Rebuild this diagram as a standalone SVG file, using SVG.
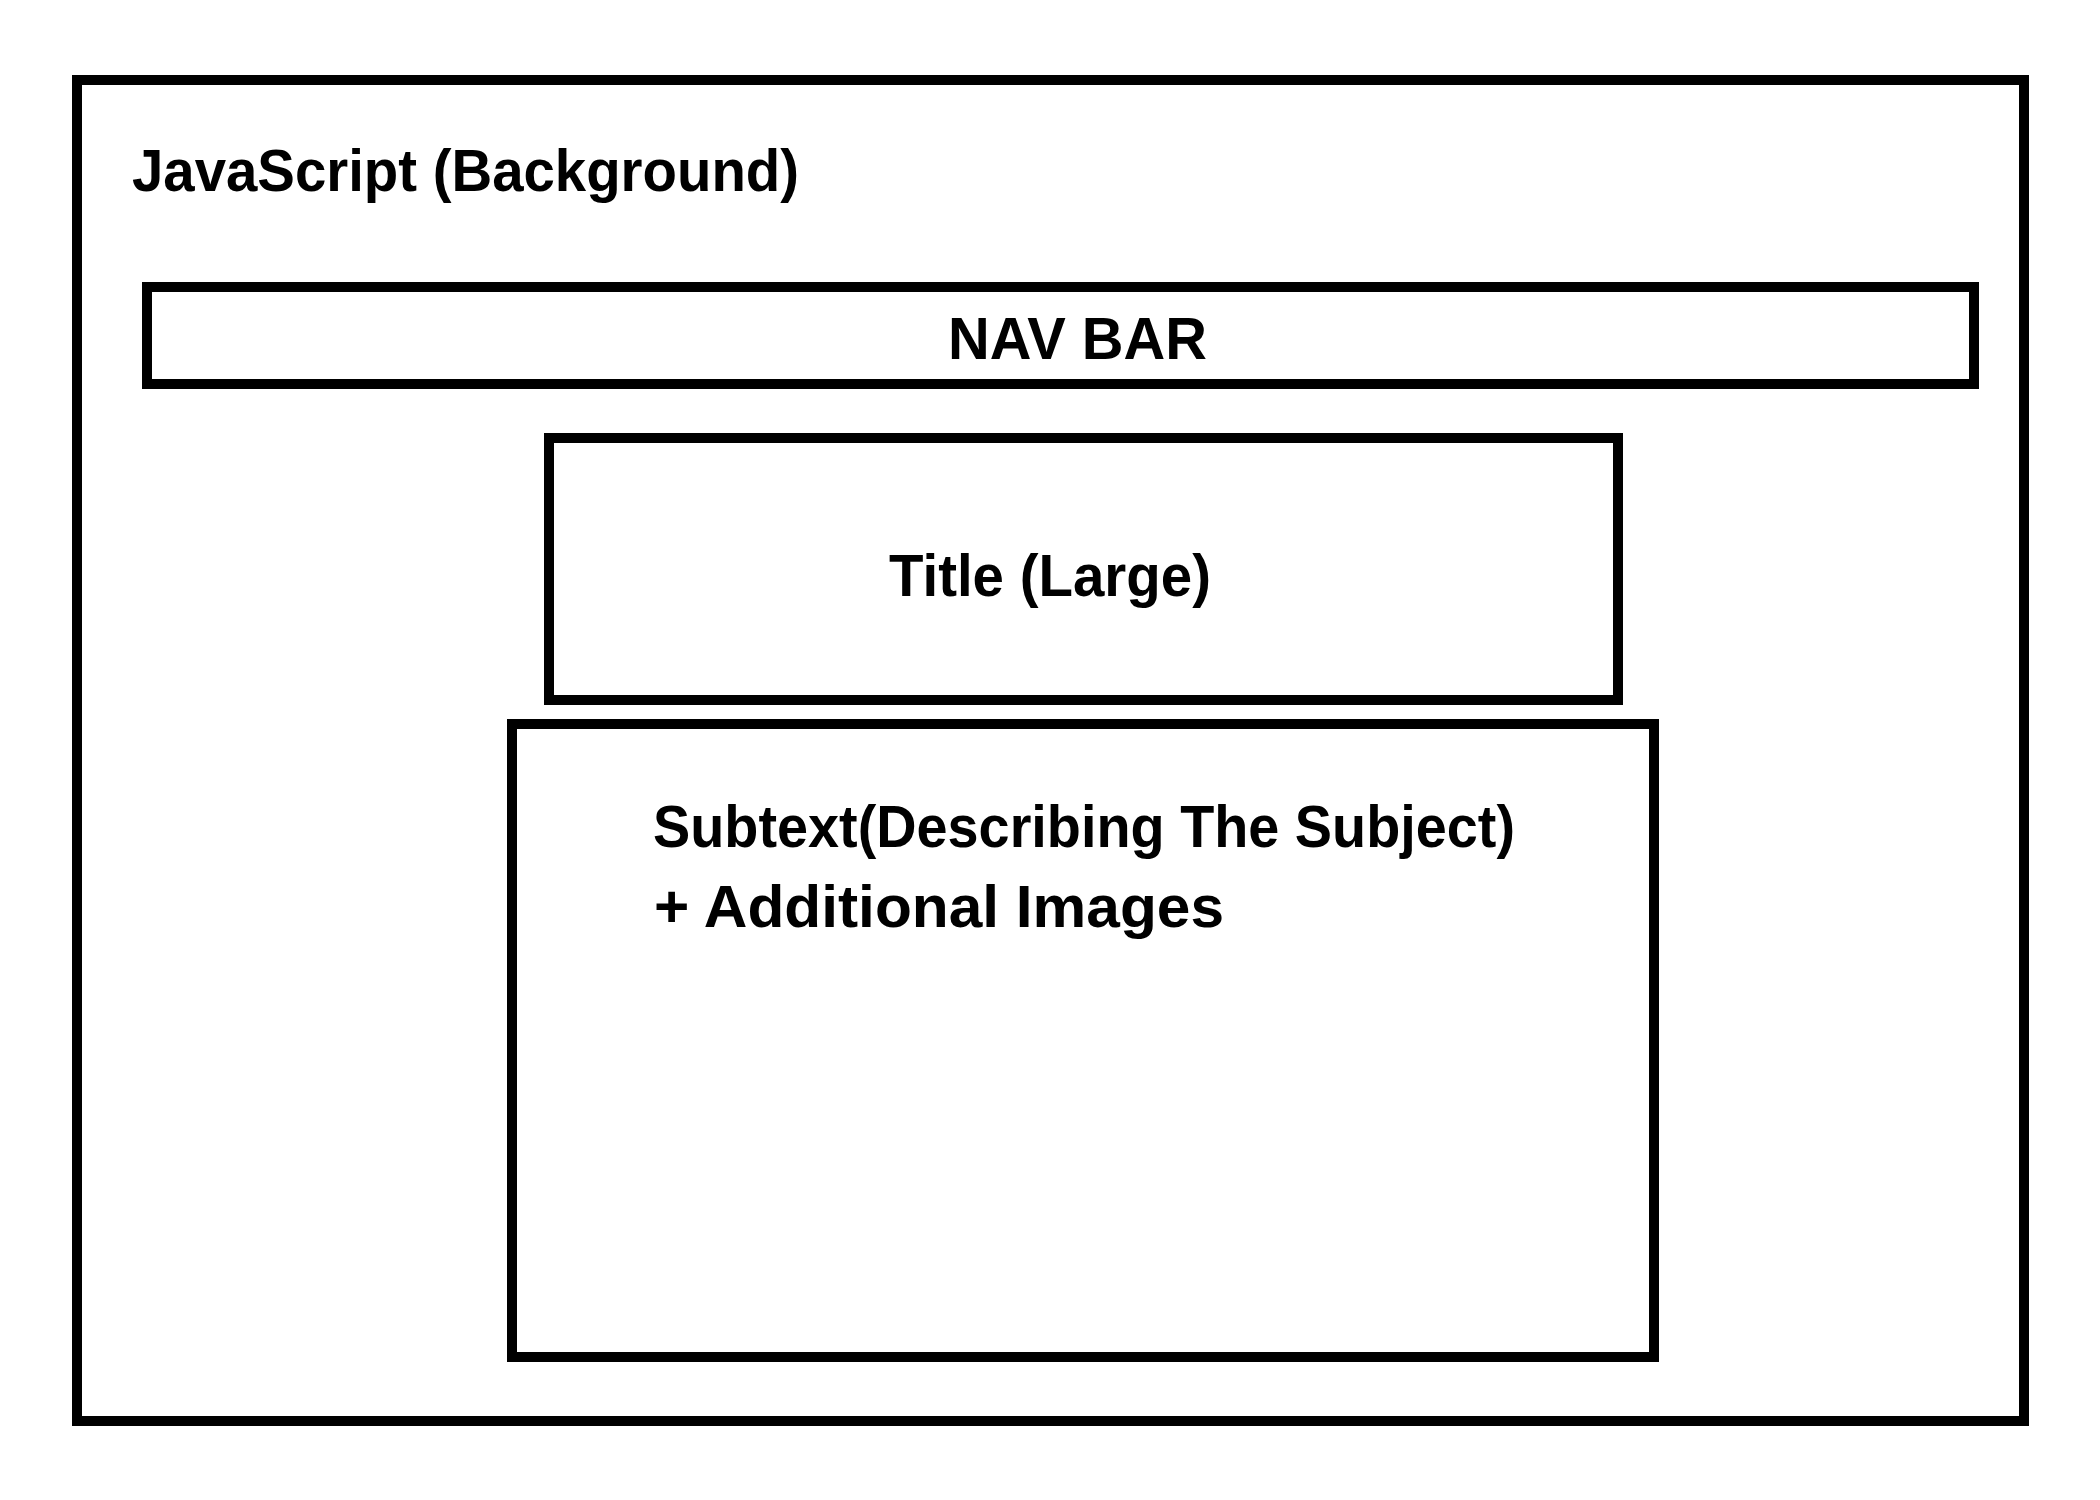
<svg xmlns="http://www.w3.org/2000/svg" width="2100" height="1500" viewBox="0 0 2100 1500">
<style>
.box{fill:#ffffff;stroke:#000000;stroke-width:10}
.lbl{font-family:"Liberation Sans",Arial,sans-serif;font-weight:bold;font-size:60px;fill:#000000}
</style>
<rect x="0" y="0" width="2100" height="1500" fill="#ffffff"/>
<g id="background">
<rect class="box" x="77" y="80" width="1947" height="1341"/>
<text class="lbl" x="132" y="191" textLength="667" lengthAdjust="spacingAndGlyphs">JavaScript (Background)</text>
</g>
<g id="navbar">
<rect class="box" x="147" y="287" width="1827" height="97"/>
<text class="lbl" x="948" y="359" textLength="259" lengthAdjust="spacingAndGlyphs">NAV BAR</text>
</g>
<g id="title">
<rect class="box" x="549" y="438" width="1069" height="262"/>
<text class="lbl" x="889" y="596" textLength="322" lengthAdjust="spacingAndGlyphs">Title (Large)</text>
</g>
<g id="subtext">
<rect class="box" x="512" y="724" width="1142" height="633"/>
<text class="lbl" x="653" y="847" textLength="862" lengthAdjust="spacingAndGlyphs">Subtext(Describing The Subject)</text>
<text class="lbl" x="654" y="927" textLength="570" lengthAdjust="spacingAndGlyphs">+ Additional Images</text>
</g>
<g id="connectors"></g>
</svg>
